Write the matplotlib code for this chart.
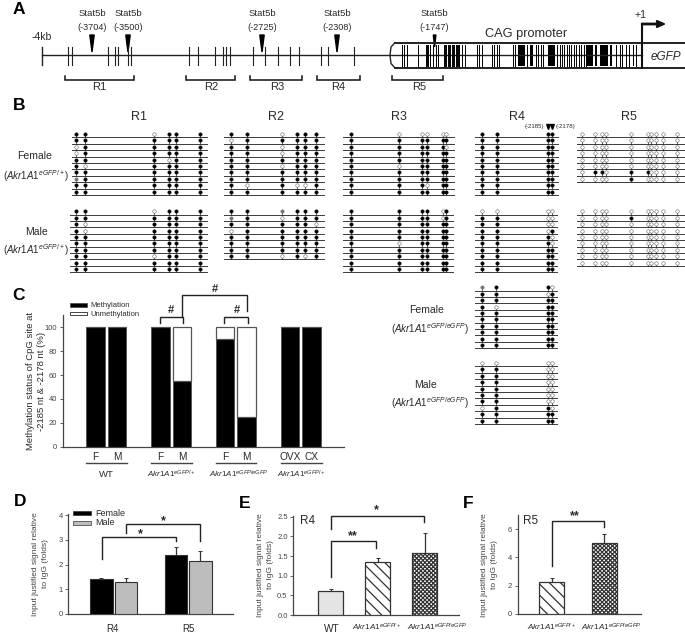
import matplotlib
matplotlib.use('Agg')
import matplotlib.pyplot as plt
from matplotlib.patches import Rectangle, Polygon, FancyArrow

plt.rcParams['font.family'] = ['Liberation Sans', 'DejaVu Sans']
plt.rcParams['mathtext.fontset'] = 'custom'
plt.rcParams['mathtext.rm'] = 'Liberation Sans'
plt.rcParams['mathtext.it'] = 'Liberation Sans:italic'
plt.rcParams['hatch.linewidth'] = 0.9

W, H = 685, 641
TXT = '#2a2a2a'

# panel A
upstream_sites = [68, 72.4, 108.3, 114.9, 118.4, 128, 130.7, 189, 197.8, 215.4, 222.8, 226.3, 230.3,
                  253.5, 265.4, 278, 290.4, 299.1, 320.6, 328.1, 354.4]
cag_sites = [402, 404, 406.6, 418.5, 425.7, 427, 428.3, 429.7, 432.7, 435.7, 438.3,
             443.7, 445, 446.3, 447.7, 449, 450.3, 451.7, 453, 454.3, 455.7, 457, 458.3, 459.3, 461.7, 464.7,
             476.7, 479, 481.7, 492.3, 494.3, 496.7, 499, 513.3, 515, 526.7, 535.7, 538.3, 541, 543.3,
             557.3, 560, 562.3, 564.3, 566.7, 569, 571, 573.7, 576, 578.7, 581.3, 583.7, 586,
             616.3, 620.3, 622, 626.3, 629.3, 636.5]
cag_blocks = [(518.3, 525), (530, 533.3), (547.7, 555), (587, 589), (589.3, 592.7), (594.7, 597),
              (600.3, 608), (610.3, 612), (632.7, 634)]
stat_names = ['Stat5b', 'Stat5b', 'Stat5b', 'Stat5b', 'Stat5b']
stat_pos = ['(-3704)', '(-3500)', '(-2725)', '(-2308)', '(-1747)']
stat_x = [92, 128, 262, 337, 434.6]
region_names = ['R1', 'R2', 'R3', 'R4', 'R5']
region_spans = [(65, 134), (186, 235), (250.5, 302), (317, 360), (392, 443)]
region_label_x = [99, 211, 277.5, 338.5, 419]

# panel B, 1 methylated, 0 unmethylated, g grey
r1_sites = [76.3, 85, 154.3, 168.7, 176, 200]
r2_sites = [230.7, 247, 281.7, 297.3, 305, 315.7]
r3_sites = [351, 399.3, 422, 426.7, 442.7, 446]
r4_sites = [482, 496.7, 548.3, 551.7]
r5_sites = [581.7, 595, 602.3, 606, 631, 647.7, 651, 655.7, 663, 677.3]

r1_female = ['110111', '111111', '011111', '011111', '111011', '101111', '111111', 'g11111', '111111', '111111']
r1_male = ['110111', '111111', '101111', '101111', '111111', '111111', '111111', '110111', '111111', '111111']
r2_female = ['110111', '011111', '110111', '110111', '111111', '110111', '111111', '111111', '101001', '111111']
r2_male = ['11g111', 'g10111', '111110', '011111', '111111', '111111', '111111', '110101']
r3_female = ['100000', '111111', '111110', '111111', '111111', '101111', '111111', '111111', '111011', '111111']
r3_male = ['111101', '111101', '111111', '111111', '111111', '101111', '111111', '111111', '111111', '111111']
r4_female = ['1111'] * 10
r4_male = ['0000', '1100', '1100', '1101', '1110', '1110', '1111', '1111', '1111', '1111']
r5_female = ['0000000000', '0000000000', '0000000000', '0000000000', '0000000000', '0000000000',
             '0110110000', '0000100000']
r5_male = ['0000000000', '0000100000', '0000000000', '0000000000', '0000000000', '0000000000',
           '0000000000', '0000000000', '0000000000']
r4_homo_sites = [481.7, 496, 548, 551.7]
r4_homo_female = ['g110', '1101', '1111', '1011', '1111', '1111', '1111', '1111', '1111', '1111']
r4_homo_male = ['0000', '1100', '1100', '1100', '1100', '1100', '1100', '0110', '1111', '1111']

# panel C
c_labels = ['F', 'M', 'F', 'M', 'F', 'M', 'OVX', 'CX']
c_methyl = [100, 100, 100, 55, 90, 25, 100, 100]
c_unmethyl = [0, 0, 0, 45, 10, 75, 0, 0]
c_pos = [0, 1, 3, 4, 6, 7, 9, 10]

# panel D
d_female = [1.42, 2.4]
d_female_err = [0.05, 0.3]
d_male = [1.3, 2.13]
d_male_err = [0.15, 0.42]
d_groups = ['R4', 'R5']

# panel E, F
e_values = [0.6, 1.36, 1.57]
e_err = [0.07, 0.08, 0.51]
f_values = [2.25, 5.0]
f_err = [0.27, 0.69]

fig = plt.figure(figsize=(W / 100, H / 100), dpi=100)
ax0 = fig.add_axes([0, 0, 1, 1], zorder=5)
ax0.set_xlim(0, W)
ax0.set_ylim(H, 0)
ax0.axis('off')
ax0.patch.set_alpha(0)


def box_axes(x0, x1, ytop, ybot):
    ax = fig.add_axes([x0 / W, 1 - ybot / H, (x1 - x0) / W, (ybot - ytop) / H])
    ax.spines['top'].set_visible(False)
    ax.spines['right'].set_visible(False)
    for s in ['left', 'bottom']:
        ax.spines[s].set_color('#444444')
        ax.spines[s].set_linewidth(0.9)
    ax.tick_params(axis='y', labelsize=5.5, length=2, width=0.6, pad=2, colors='#444444')
    ax.tick_params(axis='x', length=0)
    return ax


def label(x, y, s, size=7, **kw):
    kw.setdefault('color', TXT)
    ax0.text(x, y, s, fontsize=size, ha=kw.pop('ha', 'center'), va=kw.pop('va', 'center'), **kw)


def bracket(x0, x1, y, y0_end, y1_end, lw=1.0):
    ax0.plot([x0, x0, x1, x1], [y0_end, y, y, y1_end], color='#222222', lw=lw, solid_joinstyle='miter')


def pins(sites, rows, x0, x1, ystart, dy=6.4):
    for i, row in enumerate(rows):
        y = ystart + i * dy
        ax0.plot([x0, x1], [y + 3.3, y + 3.3], color='#3a3a3a', lw=0.7)
        for x, state in zip(sites, row):
            ax0.plot([x, x], [y, y + 3.3], color='#222222', lw=0.5)
            if state == '1':
                ax0.plot(x, y, 'o', ms=2.6, mfc='black', mec='black', mew=0.2)
            elif state == 'g':
                ax0.plot(x, y, 'o', ms=2.6, mfc='#777777', mec='#777777', mew=0.2)
            else:
                ax0.plot(x, y, 'o', ms=2.5, mfc='white', mec='#666666', mew=0.4)


def akr(sup):
    return r'$\mathit{Akr1A1}^{\mathit{' + sup + '}}$'


# panel letters
for s, x, y in [('A', 19, 10), ('B', 19, 106), ('C', 19, 295), ('D', 20, 502), ('E', 245, 503), ('F', 468, 503)]:
    ax0.text(x, y, s, fontsize=12.5, fontweight='bold', ha='center', va='center', color='black')

# panel A
ax0.plot([41.6, 641.6], [55.3, 55.3], color='#222222', lw=1.0)
ax0.plot([41.6, 41.6], [46.7, 65], color='#222222', lw=1.0)
for x in upstream_sites:
    ax0.plot([x, x], [46.7, 65], color='#222222', lw=0.8)
for x in cag_sites:
    ax0.plot([x, x], [45, 65.5], color='black', lw=0.7)
for a, b in cag_blocks:
    ax0.add_patch(Rectangle((a, 45), b - a, 20.5, fc='black', ec='none'))
ax0.plot([395, 685], [42.7, 42.7], color='#222222', lw=1.4)
ax0.plot([395, 685], [68, 68], color='#222222', lw=1.4)
ax0.plot([395, 391, 390, 391, 395], [42.7, 47, 55.3, 63.5, 68], color='#222222', lw=1.0)
ax0.plot([641.6, 641.6], [68, 24], color='#111111', lw=1.5)
ax0.add_patch(FancyArrow(641.6, 24, 15, 0, width=1.4, head_width=7, head_length=8,
                         length_includes_head=False, color='#111111'))
label(641, 15.5, '+1', size=7.6)
label(666, 57, 'eGFP', size=8.5, style='italic')
label(526, 34.5, 'CAG promoter', size=9.2)
label(41.6, 37.5, '-4kb', size=7.5)
for name, pos, x in zip(stat_names, stat_pos, stat_x):
    label(x, 14, name, size=6.8)
    label(x, 27, pos, size=6.6)
    if x > 400:
        tri = [(x - 1.3, 35), (x + 1.3, 35), (x, 47)]
    else:
        tri = [(x - 2.2, 35), (x + 2.2, 35), (x, 52)]
    ax0.add_patch(Polygon(tri, closed=True, color='black'))
for name, (a, b), lx in zip(region_names, region_spans, region_label_x):
    ax0.plot([a, a, b, b], [76, 80, 80, 76], color='#111111', lw=1.1, solid_joinstyle='miter')
    label(lx, 87.5, name, size=8)

# panel B
for name, x in zip(region_names, [139, 275.7, 399, 517, 629]):
    label(x, 116.7, name, size=9)
pins(r1_sites, r1_female, 71.7, 207, 134)
pins(r1_sites, r1_male, 70, 206.7, 211.3)
pins(r2_sites, r2_female, 224, 324, 134)
pins(r2_sites, r2_male, 224, 324, 211.3)
pins(r3_sites, r3_female, 343.3, 454, 134)
pins(r3_sites, r3_male, 343.3, 453, 211.3)
pins(r4_sites, r4_female, 475, 558.3, 134)
pins(r4_sites, r4_male, 475, 557, 211.3)
pins(r5_sites, r5_female, 576.7, 685, 134)
pins(r5_sites, r5_male, 576.7, 685, 211.3)
pins(r4_homo_sites, r4_homo_female, 475, 557, 287.3)
pins(r4_homo_sites, r4_homo_male, 475, 557, 363)
label(534, 126.7, '(-2185)', size=4.4)
label(566, 126.7, '(-2178)', size=4.4)
for x in [548.5, 552.5]:
    ax0.add_patch(Polygon([(x - 1.8, 124.5), (x + 1.8, 124.5), (x, 129.5)], closed=True, color='black'))
label(35, 155.7, 'Female', size=7.5)
label(36, 176, '(' + akr('eGFP/+') + ')', size=7)
label(37, 231.7, 'Male', size=7.5)
label(36, 250, '(' + akr('eGFP/+') + ')', size=7)
label(426.7, 310, 'Female', size=7.5)
label(430, 329, '(' + akr('eGFP/eGFP') + ')', size=7)
label(426, 385, 'Male', size=7.5)
label(430, 403, '(' + akr('eGFP/eGFP') + ')', size=7)

# panel C
axc = box_axes(62.7, 344, 315, 446.7)
axc.bar(c_pos, c_methyl, width=0.86, color='black', edgecolor='#555555', lw=0.7)
axc.bar(c_pos, c_unmethyl, bottom=c_methyl, width=0.86, color='white', edgecolor='#555555', lw=0.9)
axc.set_xlim(-1.52, 11.5)
axc.set_ylim(0, 110.3)
axc.set_yticks([0, 20, 40, 60, 80, 100])
axc.set_xticks(c_pos)
axc.set_xticklabels(c_labels, fontsize=7.3, color=TXT)
axc.tick_params(axis='x', pad=3.5)
label(36, 381, 'Methylation status of CpG site at\n-2185 nt & -2178 nt (%)', size=6.8, rotation=90,
      linespacing=1.4)
ax0.add_patch(Rectangle((70, 303.3), 16.7, 4, fc='black', ec='#444444', lw=0.5))
ax0.add_patch(Rectangle((70, 312), 16.7, 3.4, fc='white', ec='#444444', lw=0.7))
label(90.5, 305.3, 'Methylation', size=5.5, ha='left')
label(90.5, 314, 'Unmethylation', size=5.5, ha='left')
for x0, x1, s, x in [(86, 126.7, 'WT', 106), (151, 191.7, akr('eGFP/+'), 171.7),
                     (215.7, 256, akr('eGFP/eGFP'), 238.7), (280.7, 322, akr('eGFP/+'), 301.7)]:
    ax0.plot([x0, x1], [462.7, 462.7], color='#444444', lw=1.0)
    label(x, 474.7, s, size=6.8 if s == 'WT' else 5.8)
bracket(159.7, 183, 316.7, 323.3, 323.3)
bracket(182, 247.3, 295.3, 316.7, 310.7)
bracket(224.3, 247.7, 316.7, 323.3, 323.3)
label(171, 310, '#', size=8, fontweight='bold')
label(215, 289, '#', size=8, fontweight='bold')
label(236.7, 310, '#', size=8, fontweight='bold')

# panel D
axd = box_axes(68.3, 233.3, 513.5, 614)
d_x = [0, 3.05]
d_x2 = [1, 4.05]
axd.bar(d_x, d_female, width=0.92, color='black', edgecolor='#333333', lw=0.8, zorder=3)
axd.bar(d_x2, d_male, width=0.92, color='#bdbdbd', edgecolor='#333333', lw=0.8, zorder=3)
axd.errorbar(d_x, d_female, yerr=[[0, 0], d_female_err], fmt='none', ecolor='#333333', elinewidth=0.9,
             capsize=1.7, capthick=0.7, zorder=2)
axd.errorbar(d_x2, d_male, yerr=[[0, 0], d_male_err], fmt='none', ecolor='#333333', elinewidth=0.9,
             capsize=1.7, capthick=0.7, zorder=2)
axd.set_xlim(-1.35, 5.39)
axd.set_ylim(0, 4.07)
axd.set_yticks([0, 1, 2, 3, 4])
axd.set_xticks([0.47, 3.55])
axd.set_xticklabels(d_groups, fontsize=7, color=TXT)
axd.tick_params(axis='x', pad=7)
label(40.5, 564, 'Input justified signal relative\nto IgG (folds)', size=6.0, rotation=90, color='#444444',
      linespacing=1.5)
ax0.add_patch(Rectangle((73.3, 511), 17.7, 4, fc='black', ec='#333333', lw=0.5))
ax0.add_patch(Rectangle((73.3, 520.7), 17.7, 4, fc='#bdbdbd', ec='#333333', lw=0.5))
label(95.5, 513.3, 'Female', size=6.5, ha='left')
label(95.5, 522.7, 'Male', size=6.5, ha='left')
bracket(102.3, 176, 536.7, 559, 541)
bracket(126.3, 200, 524.3, 532.7, 541)
label(140.7, 534, '*', size=9, fontweight='bold')
label(163.3, 521.5, '*', size=9, fontweight='bold')

# panel E
axe = box_axes(293.3, 459, 516, 615)
e_x = [0, 1, 2]
axe.bar(e_x, e_values, width=0.53, color=['#e4e4e4', 'white', 'white'], edgecolor='#333333', lw=0.9,
        hatch=None, zorder=3)
axe.patches[1].set_hatch('\\\\\\')
axe.patches[2].set_hatch('xxxxxxxx')
axe.errorbar(e_x, e_values, yerr=[[0, 0, 0], e_err], fmt='none', ecolor='#333333', elinewidth=0.9,
             capsize=1.7, capthick=0.7, zorder=2)
axe.set_xlim(-0.8, 2.73)
axe.set_ylim(0, 2.52)
axe.set_yticks([0, 0.5, 1, 1.5, 2, 2.5])
axe.set_yticklabels(['0.0', '0.5', '1.0', '1.5', '2.0', '2.5'])
axe.set_xticks([])
label(265.7, 565, 'Input justified signal relative\nto IgG (folds)', size=6.0, rotation=90, color='#444444',
      linespacing=1.5)
label(307.5, 520.7, 'R4', size=8.5)
label(332, 628.5, 'WT', size=7.3)
label(377, 627.5, akr('eGFP/+'), size=5.9)
label(437, 627.5, akr('eGFP/eGFP'), size=5.9)
bracket(330.7, 376, 541.3, 576.7, 548.3)
bracket(330.7, 424.3, 515.7, 529.3, 522.3)
label(353, 536, '**', size=9, fontweight='bold')
label(376, 510, '*', size=9, fontweight='bold')

# panel F
axf = box_axes(517.7, 640.7, 515, 614)
f_x = [0, 1]
axf.bar(f_x, f_values, width=0.477, color='white', edgecolor='#333333', lw=0.9, zorder=3)
axf.patches[0].set_hatch('\\\\\\')
axf.patches[1].set_hatch('xxxxxxxx')
axf.errorbar(f_x, f_values, yerr=[[0, 0], f_err], fmt='none', ecolor='#333333', elinewidth=0.9,
             capsize=1.7, capthick=0.7, zorder=2)
axf.set_xlim(-0.65, 1.70)
axf.set_ylim(0, 7)
axf.set_yticks([0, 2, 4, 6])
axf.set_xticks([])
label(489.5, 565, 'Input justified signal relative\nto IgG (folds)', size=6.0, rotation=90, color='#444444',
      linespacing=1.5)
label(530.5, 520.7, 'R5', size=8.5)
label(552, 627.5, akr('eGFP/+'), size=5.9)
label(611.7, 627.5, akr('eGFP/eGFP'), size=5.9)
bracket(551.7, 604, 521, 566, 526.7)
label(575.3, 516, '**', size=9, fontweight='bold')

fig.savefig('out.png', dpi=100)
